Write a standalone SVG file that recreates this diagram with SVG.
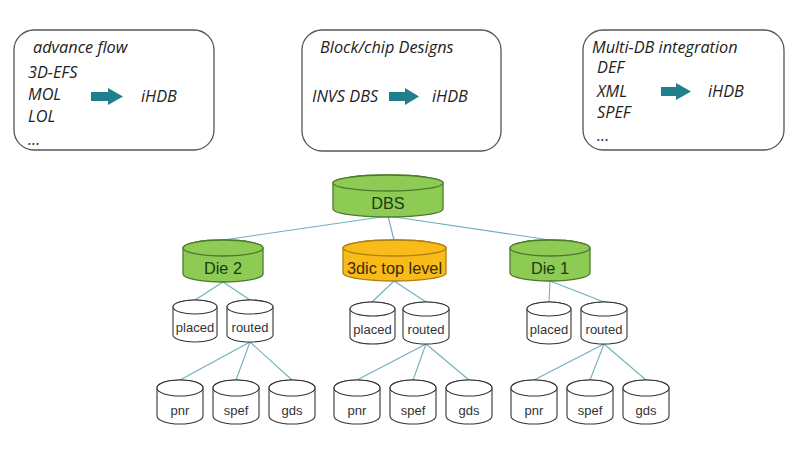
<svg xmlns="http://www.w3.org/2000/svg" width="794" height="462" viewBox="0 0 794 462">
<defs>
<style>
.box{fill:#fff;stroke:#555;stroke-width:1.3}
.bt{font-family:"Open Sans","Liberation Sans",sans-serif;font-style:italic;font-size:16.3px;fill:#222}
.arr{fill:#1f7f8c}
.ln{stroke:#6fb0bd;stroke-width:1.1;fill:none}
.g{fill:#8dcb55;stroke:#4c7a2c;stroke-width:1.3}
.o{fill:#f8bb1a;stroke:#b07f10;stroke-width:1.3}
.w{fill:#fff;stroke:#333;stroke-width:1.1}
.ct{font-family:"Liberation Sans",Arial,sans-serif;font-size:16.3px;fill:#1e3a14;text-anchor:middle}
.st{font-family:"Liberation Sans",Arial,sans-serif;font-size:13px;fill:#333;text-anchor:middle}
</style>
</defs>
<rect width="794" height="462" fill="#fff"/>

<g id="box-advance-flow">
<rect class="box" x="14" y="30" width="200" height="120" rx="20"/>
<text class="bt" x="33" y="53">advance flow</text>
<text class="bt" x="28" y="78">3D-EFS</text>
<text class="bt" x="28" y="100">MOL</text>
<text class="bt" x="28" y="122">LOL</text>
<text class="bt" x="28" y="145">...</text>
<polygon class="arr" points="91,92 108,92 108,88 123,96.5 108,105 108,101 91,101"/>
<text class="bt" x="141" y="102">iHDB</text>
</g>

<g id="box-block-chip">
<rect class="box" x="302" y="30" width="199" height="121" rx="20"/>
<text class="bt" x="320" y="53">Block/chip Designs</text>
<text class="bt" x="312" y="102">INVS DBS</text>
<polygon class="arr" points="389,92 405,92 405,88 419,96.5 405,105 405,101 389,101"/>
<text class="bt" x="432" y="102">iHDB</text>
</g>

<g id="box-multi-db">
<rect class="box" x="583" y="30" width="201" height="120" rx="20"/>
<text class="bt" x="592" y="53">Multi-DB integration</text>
<text class="bt" x="597" y="73">DEF</text>
<text class="bt" x="597" y="97">XML</text>
<text class="bt" x="597" y="118">SPEF</text>
<text class="bt" x="597" y="141">...</text>
<polygon class="arr" points="661,87 676,87 676,83 691,91.5 676,100 676,96 661,96"/>
<text class="bt" x="708" y="97">iHDB</text>
</g>

<g id="connectors">
<line class="ln" x1="388" y1="216" x2="223" y2="240"/>
<line class="ln" x1="388" y1="216" x2="394" y2="240"/>
<line class="ln" x1="388" y1="216" x2="550" y2="240"/>
<line class="ln" x1="223" y1="282" x2="195" y2="300"/>
<line class="ln" x1="223" y1="282" x2="250" y2="300"/>
<line class="ln" x1="394" y1="281" x2="372" y2="302"/>
<line class="ln" x1="394" y1="281" x2="426" y2="302"/>
<line class="ln" x1="550" y1="281" x2="549" y2="302"/>
<line class="ln" x1="550" y1="281" x2="604" y2="302"/>
<line class="ln" x1="250" y1="342" x2="180" y2="380"/>
<line class="ln" x1="250" y1="342" x2="236" y2="380"/>
<line class="ln" x1="250" y1="342" x2="292" y2="380"/>
<line class="ln" x1="426" y1="344" x2="357" y2="380"/>
<line class="ln" x1="426" y1="344" x2="413" y2="380"/>
<line class="ln" x1="426" y1="344" x2="469" y2="380"/>
<line class="ln" x1="604" y1="344" x2="534" y2="380"/>
<line class="ln" x1="604" y1="344" x2="590" y2="380"/>
<line class="ln" x1="604" y1="344" x2="646" y2="380"/>
</g>

<g id="dbs">
<path class="g" d="M333,183 V209 A55,8 0 0 0 443,209 V183 A55,8 0 0 0 333,183 Z"/>
<ellipse class="g" cx="388" cy="183" rx="55" ry="8"/>
<text class="ct" x="388" y="209">DBS</text>
</g>

<g id="die2">
<path class="g" d="M183,248 V274 A40,8 0 0 0 263,274 V248 A40,8 0 0 0 183,248 Z"/>
<ellipse class="g" cx="223" cy="248" rx="40" ry="8"/>
<text class="ct" x="223" y="274">Die 2</text>
</g>

<g id="top3dic">
<path class="o" d="M343,248 V273 A51.5,8 0 0 0 446,273 V248 A51.5,8 0 0 0 343,248 Z"/>
<ellipse class="o" cx="394.5" cy="248" rx="51.5" ry="8"/>
<text class="ct" x="394.5" y="274" style="fill:#3a2a05">3dic top level</text>
</g>

<g id="die1">
<path class="g" d="M510,248 V273 A40,8 0 0 0 590,273 V248 A40,8 0 0 0 510,248 Z"/>
<ellipse class="g" cx="550" cy="248" rx="40" ry="8"/>
<text class="ct" x="550" y="274">Die 1</text>
</g>

<g id="die2-placed">
<path class="w" d="M173,307 V335 A22,7 0 0 0 217,335 V307 A22,7 0 0 0 173,307 Z"/>
<ellipse class="w" cx="195" cy="307" rx="22" ry="7"/>
<text class="st" x="195" y="332">placed</text>
</g>
<g id="die2-routed">
<path class="w" d="M227,307 V335 A23,7 0 0 0 273,335 V307 A23,7 0 0 0 227,307 Z"/>
<ellipse class="w" cx="250" cy="307" rx="23" ry="7"/>
<text class="st" x="250" y="332">routed</text>
</g>
<g id="top-placed">
<path class="w" d="M350,309 V337 A22.5,7 0 0 0 395,337 V309 A22.5,7 0 0 0 350,309 Z"/>
<ellipse class="w" cx="372.5" cy="309" rx="22.5" ry="7"/>
<text class="st" x="372.5" y="334">placed</text>
</g>
<g id="top-routed">
<path class="w" d="M403,309 V337 A23,7 0 0 0 449,337 V309 A23,7 0 0 0 403,309 Z"/>
<ellipse class="w" cx="426" cy="309" rx="23" ry="7"/>
<text class="st" x="426" y="334">routed</text>
</g>
<g id="die1-placed">
<path class="w" d="M527,309 V337 A22,7 0 0 0 571,337 V309 A22,7 0 0 0 527,309 Z"/>
<ellipse class="w" cx="549" cy="309" rx="22" ry="7"/>
<text class="st" x="549" y="334">placed</text>
</g>
<g id="die1-routed">
<path class="w" d="M581,309 V337 A23,7 0 0 0 627,337 V309 A23,7 0 0 0 581,309 Z"/>
<ellipse class="w" cx="604" cy="309" rx="23" ry="7"/>
<text class="st" x="604" y="334">routed</text>
</g>

<g id="die2-pnr">
<path class="w" d="M157,388 V416 A23,8 0 0 0 203,416 V388 A23,8 0 0 0 157,388 Z"/>
<ellipse class="w" cx="180" cy="388" rx="23" ry="8"/>
<text class="st" x="180" y="415">pnr</text>
</g>
<g id="die2-spef">
<path class="w" d="M213,388 V416 A23,8 0 0 0 259,416 V388 A23,8 0 0 0 213,388 Z"/>
<ellipse class="w" cx="236" cy="388" rx="23" ry="8"/>
<text class="st" x="236" y="415">spef</text>
</g>
<g id="die2-gds">
<path class="w" d="M269,388 V416 A23,8 0 0 0 315,416 V388 A23,8 0 0 0 269,388 Z"/>
<ellipse class="w" cx="292" cy="388" rx="23" ry="8"/>
<text class="st" x="292" y="415">gds</text>
</g>
<g id="top-pnr">
<path class="w" d="M334,388 V416 A23,8 0 0 0 380,416 V388 A23,8 0 0 0 334,388 Z"/>
<ellipse class="w" cx="357" cy="388" rx="23" ry="8"/>
<text class="st" x="357" y="415">pnr</text>
</g>
<g id="top-spef">
<path class="w" d="M390,388 V416 A23,8 0 0 0 436,416 V388 A23,8 0 0 0 390,388 Z"/>
<ellipse class="w" cx="413" cy="388" rx="23" ry="8"/>
<text class="st" x="413" y="415">spef</text>
</g>
<g id="top-gds">
<path class="w" d="M446,388 V416 A23,8 0 0 0 492,416 V388 A23,8 0 0 0 446,388 Z"/>
<ellipse class="w" cx="469" cy="388" rx="23" ry="8"/>
<text class="st" x="469" y="415">gds</text>
</g>
<g id="die1-pnr">
<path class="w" d="M511,388 V416 A23,8 0 0 0 557,416 V388 A23,8 0 0 0 511,388 Z"/>
<ellipse class="w" cx="534" cy="388" rx="23" ry="8"/>
<text class="st" x="534" y="415">pnr</text>
</g>
<g id="die1-spef">
<path class="w" d="M567,388 V416 A23,8 0 0 0 613,416 V388 A23,8 0 0 0 567,388 Z"/>
<ellipse class="w" cx="590" cy="388" rx="23" ry="8"/>
<text class="st" x="590" y="415">spef</text>
</g>
<g id="die1-gds">
<path class="w" d="M623,388 V416 A23,8 0 0 0 669,416 V388 A23,8 0 0 0 623,388 Z"/>
<ellipse class="w" cx="646" cy="388" rx="23" ry="8"/>
<text class="st" x="646" y="415">gds</text>
</g>
</svg>
